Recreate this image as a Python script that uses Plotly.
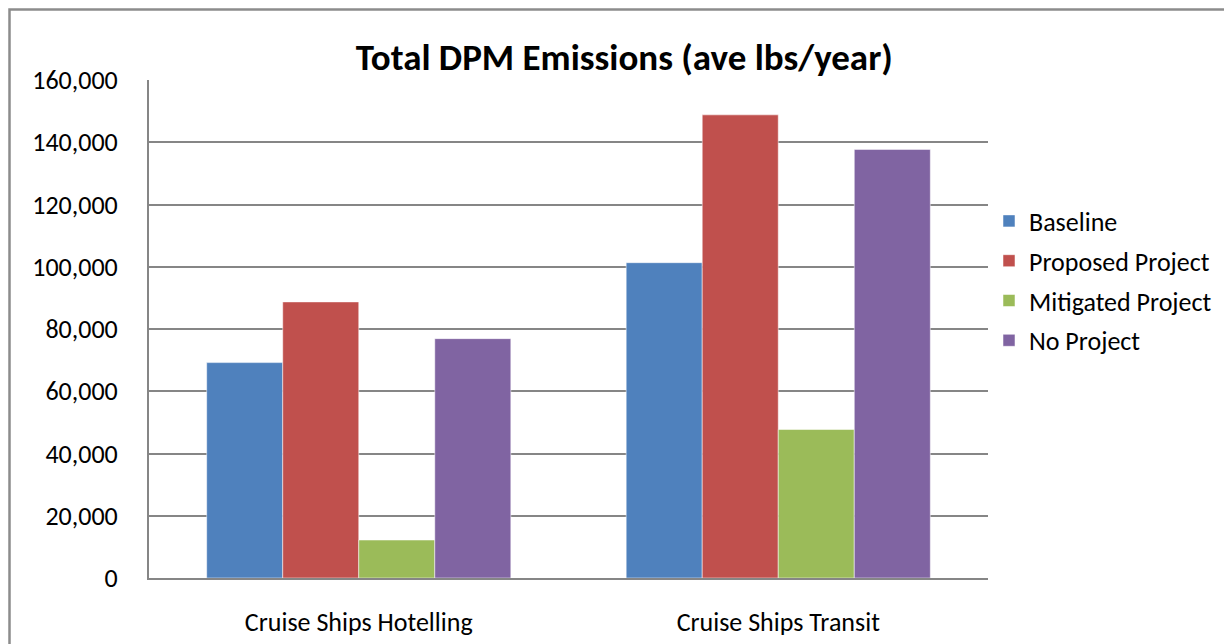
import plotly.graph_objects as go

categories = ["Cruise Ships Hotelling", "Cruise Ships Transit"]
series_names = ["Baseline", "Proposed Project", "Mitigated Project", "No Project"]
baseline = [69200, 101300]
proposed = [88700, 148800]
mitigated = [12200, 47700]
no_project = [76900, 137700]
colors = ["#4F81BD", "#C0504D", "#9BBB59", "#8064A2"]
y_ticks = [0, 20000, 40000, 60000, 80000, 100000, 120000, 140000, 160000]
y_tick_labels = ["0", "20,000", "40,000", "60,000", "80,000", "100,000", "120,000", "140,000", "160,000"]

W, H = 1224, 644
ML, MR, MT, MB = 149, W - 988, 80, H - 578
FONT = "Carlito, Lato, 'Open Sans', sans-serif"

fig = go.Figure()
for name, vals, col in zip(series_names, [baseline, proposed, mitigated, no_project], colors):
    fig.add_trace(go.Bar(
        x=categories, y=vals, name=name, legendgroup=name,
        marker=dict(color=col, line=dict(color="rgba(255,255,255,0.5)", width=1)),
    ))

pw = W - ML - MR
ph = H - MT - MB
fig.add_shape(type="rect", xref="paper", yref="paper",
              x0=(9.5 - ML) / pw, x1=(W + 20 - ML) / pw,
              y0=-(H + 20 - MT - ph) / ph, y1=(H - MB - 9.5) / ph,
              line=dict(color="#8C8C8C", width=2.5), fillcolor="rgba(0,0,0,0)", layer="below")

fig.update_layout(
    width=W, height=H,
    margin=dict(l=ML, r=MR, t=MT, b=MB, autoexpand=False),
    paper_bgcolor="white", plot_bgcolor="white",
    barmode="group", bargap=0.275, bargroupgap=0,
    font=dict(family=FONT, color="black", size=26),
    title=dict(text="<b>Total DPM Emissions (ave lbs/year)</b>", x=0.51, xanchor="center",
               y=1 - 57 / H, yanchor="middle", font=dict(size=37, family=FONT)),
    legend=dict(xref="container", yref="container", x=989 / W, xanchor="left",
                y=1 - 281 / H, yanchor="middle",
                font=dict(size=26), tracegroupgap=3, itemwidth=30),
    showlegend=True,
)
fig.update_xaxes(showline=True, linecolor="#868686", linewidth=2, showgrid=False, automargin=False,
                 ticks="", tickfont=dict(size=26), ticklabelstandoff=20)
fig.update_yaxes(range=[0, 160000], tickvals=y_ticks, ticktext=y_tick_labels, automargin=False,
                 showline=True, linecolor="#868686", linewidth=2,
                 showgrid=True, gridcolor="#868686", gridwidth=2,
                 zeroline=False, ticks="", tickfont=dict(size=26), ticklabelstandoff=24)

fig.write_html("out.html")
